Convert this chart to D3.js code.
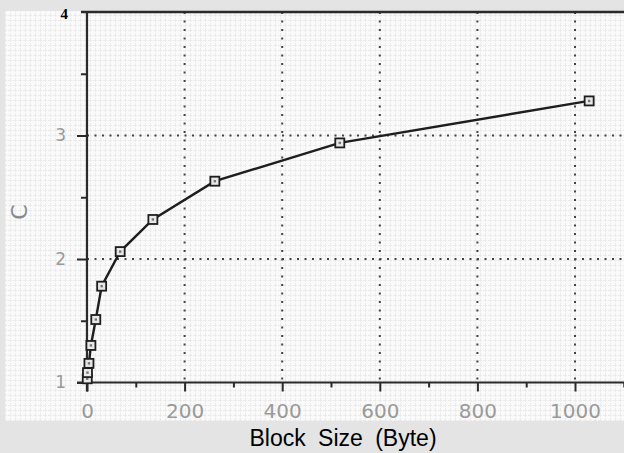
<!DOCTYPE html>
<html>
<head>
<meta charset="utf-8">
<script src="https://cdn.jsdelivr.net/npm/d3@7"></script>
<style>
  html, body { margin: 0; padding: 0; background: #e4e4e4; }
  svg { display: block; }
</style>
</head>
<body>
<svg id="chart" width="624" height="453"></svg>
<script>
// Compression ratio C against block size
const blockSize = [0.5, 1, 4, 8, 18, 30, 68, 135, 262, 518, 1029];
const ratioC    = [1.03, 1.08, 1.155, 1.30, 1.51, 1.78, 2.06, 2.32, 2.63, 2.94, 3.28];

const xMajorTicks = [0, 200, 400, 600, 800, 1000];
const xMinorTicks = [100, 300, 500, 700, 900, 1100];
const yMajorTicks = [1, 2, 3, 4];
const yMinorTicks = [1.5, 2.5, 3.5];
const xGridValues = [200, 400, 600, 800, 1000];
const yGridValues = [2, 3];

const xTitle = "Block Size (Byte)";
const yTitle = "C";

const W = 624, H = 453;
const svg = d3.select("#chart");

const x = d3.scaleLinear().domain([0, 1000]).range([87, 575]);
const y = d3.scaleLinear().domain([1, 4]).range([382.5, 12]);

// paper area with a faint printed grid
const defs = svg.append("defs");
const pat = defs.append("pattern")
  .attr("id", "paper").attr("width", 5).attr("height", 5)
  .attr("patternUnits", "userSpaceOnUse");
pat.append("rect").attr("width", 5).attr("height", 5).attr("fill", "#fafafa");
pat.append("path").attr("d", "M0,0.5H5M0.5,0V5")
  .attr("stroke", "#ebebeb").attr("stroke-width", 1).attr("stroke-dasharray", "2,1");

svg.append("rect").attr("x", 5).attr("y", 11).attr("width", W - 5).attr("height", 410)
  .attr("fill", "url(#paper)");

const ink = "#2a2a2a";

// dotted grid
svg.append("g").selectAll("line").data(xGridValues).join("line")
  .attr("x1", d => x(d)).attr("x2", d => x(d))
  .attr("y1", y(4)).attr("y2", y(1))
  .attr("stroke", "#444").attr("stroke-width", 2)
  .attr("stroke-dasharray", "2,6.5");
svg.append("g").selectAll("line").data(yGridValues).join("line")
  .attr("x1", x(0)).attr("x2", W)
  .attr("y1", d => y(d)).attr("y2", d => y(d))
  .attr("stroke", "#444").attr("stroke-width", 2)
  .attr("stroke-dasharray", "2,5.5");

// x axis: major ticks with labels, minor ticks without
const gx = svg.append("g").attr("transform", `translate(0,${y(1)})`);
gx.call(d3.axisBottom(x).tickValues(xMajorTicks).tickSize(9).tickPadding(12)
  .tickFormat(d3.format("d")));
const gxm = svg.append("g").attr("transform", `translate(0,${y(1)})`);
gxm.call(d3.axisBottom(x).tickValues(xMinorTicks).tickSize(5).tickFormat(""));

// y axis
const gy = svg.append("g").attr("transform", `translate(${x(0)},0)`);
gy.call(d3.axisLeft(y).tickValues(yMajorTicks).tickSize(10).tickPadding(11)
  .tickFormat(d3.format("d")));
const gym = svg.append("g").attr("transform", `translate(${x(0)},0)`);
gym.call(d3.axisLeft(y).tickValues(yMinorTicks).tickSize(6).tickFormat(""));

[gx, gxm, gy, gym].forEach(g => {
  g.select(".domain").remove();
  g.selectAll(".tick line").attr("stroke", ink).attr("stroke-width", 2);
});
gy.selectAll(".tick").filter(d => d === 4).select("line").remove();

gx.selectAll(".tick text")
  .attr("font-family", "DejaVu Sans").attr("font-size", 20)
  .attr("fill", "#9a9a9a");
gy.selectAll(".tick text")
  .attr("font-family", "DejaVu Sans").attr("font-size", 17)
  .attr("fill", "#9a9a9a");
gy.selectAll(".tick").filter(d => d === 4).select("text")
  .attr("font-family", "Liberation Serif").attr("font-weight", "bold")
  .attr("font-size", 15).attr("fill", "#000")
  .attr("x", -19).attr("dy", "0.42em");

// axis frame
svg.append("line").attr("x1", 77).attr("x2", W).attr("y1", y(1)).attr("y2", y(1))
  .attr("stroke", ink).attr("stroke-width", 2.2);
svg.append("line").attr("x1", x(0)).attr("x2", x(0)).attr("y1", y(4)).attr("y2", y(1) + 9)
  .attr("stroke", ink).attr("stroke-width", 2.2);
svg.append("line").attr("x1", 81).attr("x2", W).attr("y1", y(4)).attr("y2", y(4))
  .attr("stroke", ink).attr("stroke-width", 2.4);

// data line and square markers
const pts = blockSize.map((b, i) => [b, ratioC[i]]);
svg.append("path").datum(pts)
  .attr("fill", "none").attr("stroke", "#1e1e1e").attr("stroke-width", 2.4)
  .attr("d", d3.line().x(d => x(d[0])).y(d => y(d[1])));

const m = svg.append("g").selectAll("g").data(pts).join("g")
  .attr("transform", d => `translate(${x(d[0])},${y(d[1])})`);
m.append("rect").attr("x", -4.5).attr("y", -4.5).attr("width", 9).attr("height", 9)
  .attr("fill", "#e8e8e8").attr("stroke", "#1e1e1e").attr("stroke-width", 1.8);
m.append("rect").attr("x", -1.2).attr("y", -1.2).attr("width", 2.4).attr("height", 2.4)
  .attr("fill", "#777");

// titles
svg.append("text")
  .attr("x", 343).attr("y", 446)
  .attr("text-anchor", "middle")
  .attr("font-family", "Liberation Sans").attr("font-size", 23)
  .attr("word-spacing", 6)
  .attr("fill", "#000")
  .text(xTitle);

svg.append("text")
  .attr("transform", "translate(27,212) rotate(-90)")
  .attr("text-anchor", "middle")
  .attr("font-family", "DejaVu Sans").attr("font-size", 22)
  .attr("fill", "#8a8a8a")
  .text(yTitle);
</script>
</body>
</html>
